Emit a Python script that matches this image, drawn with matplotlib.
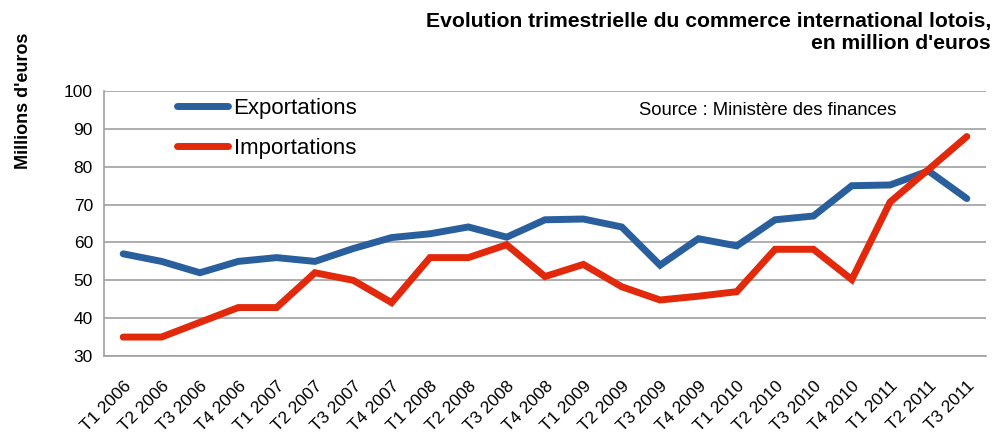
import matplotlib
matplotlib.use("Agg")
import matplotlib.pyplot as plt

plt.rcParams['font.family'] = ['Liberation Sans', 'DejaVu Sans']

trimestres = ["T1 2006", "T2 2006", "T3 2006", "T4 2006",
              "T1 2007", "T2 2007", "T3 2007", "T4 2007",
              "T1 2008", "T2 2008", "T3 2008", "T4 2008",
              "T1 2009", "T2 2009", "T3 2009", "T4 2009",
              "T1 2010", "T2 2010", "T3 2010", "T4 2010",
              "T1 2011", "T2 2011", "T3 2011"]
exportations = [57, 55, 52, 55, 56, 55, 58.4, 61.3, 62.3, 64.1, 61.4, 66,
                66.2, 64.1, 54, 61, 59.1, 66, 67, 75, 75.2, 78.9, 71.6]
importations = [35, 35, 38.9, 42.8, 42.8, 52, 50, 44.1, 56, 56, 59.4, 51,
                54.2, 48.3, 44.8, 45.8, 47, 58.2, 58.2, 50.2, 70.7, 79.3, 88]

fig = plt.figure(figsize=(10.04, 4.36), dpi=100)
ax = fig.add_axes([0.1036, 0.1835, 0.8785, 0.6075])

x = range(len(trimestres))
ax.plot(x, exportations, color="#2a5f9e", lw=5, solid_capstyle="round",
        solid_joinstyle="miter", label="Exportations")
ax.plot(x, importations, color="#e2290b", lw=5, solid_capstyle="round",
        solid_joinstyle="miter", label="Importations")

ax.set_xlim(-0.5, len(trimestres) - 0.5)
ax.set_ylim(30, 100)
ax.set_yticks(range(30, 101, 10))
ax.set_xticks(list(x))
ax.set_xticklabels(trimestres, rotation=45, ha="right", rotation_mode="anchor")
ax.tick_params(axis="both", length=0, labelsize=12.5)
ax.tick_params(axis="y", pad=8)
ax.tick_params(axis="x", pad=16)

ax.grid(axis="y", color="#a0a0a0", lw=1.2)
ax.set_axisbelow(True)
for s in ["top", "right"]:
    ax.spines[s].set_visible(False)
for s in ["left", "bottom"]:
    ax.spines[s].set_color("#a0a0a0")
    ax.spines[s].set_linewidth(1.2)

ax.legend(loc="upper left", bbox_to_anchor=(0.06, 1.05), frameon=False,
          fontsize=16, handlelength=2.3, handletextpad=0.25, labelspacing=0.85)

ax.text(0.607, 0.96, "Source : Ministère des finances", transform=ax.transAxes,
        fontsize=13.3, va="top", ha="left")

fig.text(0.987, 0.972, "Evolution trimestrielle du commerce international lotois,\nen million d'euros",
         ha="right", va="top", fontsize=15.2, fontweight="bold", linespacing=1.2)
fig.text(0.023, 0.925, "Millions d'euros", rotation=90, ha="center", va="top",
         fontsize=13, fontweight="bold")

fig.savefig("out.png", dpi=100)
